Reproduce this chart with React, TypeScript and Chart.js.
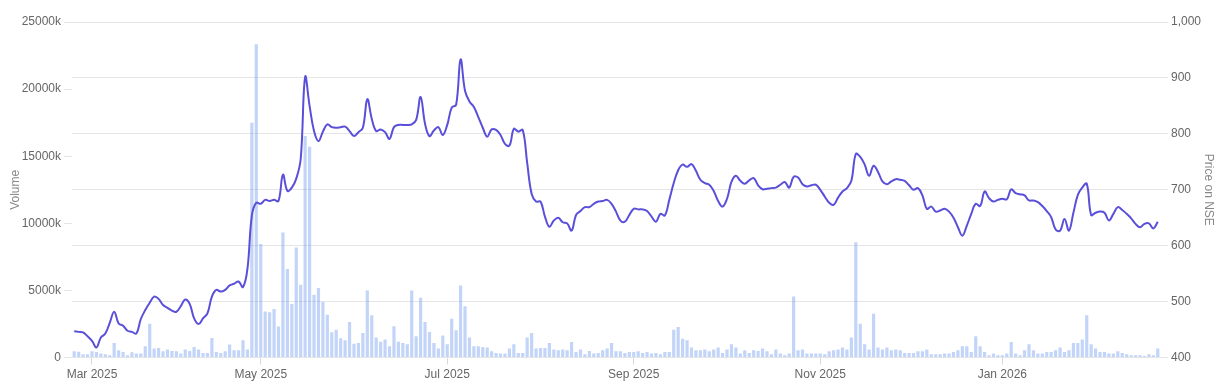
import React, { useEffect, useRef } from "react";
import { Chart, registerables } from "chart.js";
Chart.register(...registerables);

// Daily closing price on NSE (INR), one value per trading day
const prices: number[] = [
  447, 446, 445, 438, 430, 418, 436, 443, 462, 482,
  461, 457, 448, 446, 443, 469, 485, 498, 509, 505,
  494, 489, 484, 482, 492, 504, 496, 470, 460, 470,
  479, 509, 521, 518, 521, 529, 532, 536, 526, 558,
  654, 677, 675, 682, 680, 682, 680, 727, 698, 704,
  720, 755, 902, 850, 805, 787, 804, 817, 812, 811,
  812, 813, 805, 796, 803, 811, 862, 827, 805, 808,
  803, 791, 812, 816, 816, 816, 817, 825, 866, 818,
  796, 806, 812, 798, 816, 847, 852, 933, 877, 858,
  848, 830, 811, 795, 808, 807, 798, 782, 779, 809,
  804, 807, 748, 693, 679, 679, 652, 634, 645, 650,
  642, 640, 627, 655, 662, 669, 669, 675, 679, 680,
  682, 675, 661, 645, 643, 655, 666, 665, 665, 662,
  652, 643, 657, 654, 682, 712, 735, 745, 741, 746,
  734, 718, 712, 709, 698, 680, 670, 684, 714, 725,
  716, 711, 717, 721, 708, 701, 702, 703, 704, 709,
  714, 704, 723, 722, 710, 706, 708, 709, 700, 688,
  677, 673, 686, 697, 703, 716, 764, 759, 745, 725,
  743, 732, 715, 710, 715, 719, 718, 716, 708, 700,
  703, 690, 666, 670, 661, 663, 666, 661, 650, 633,
  618, 636, 657, 675, 671, 697, 685, 679, 682, 684,
  683, 701, 694, 692, 690, 681, 681, 678, 671, 662,
  651, 629, 627, 648, 627, 659, 691, 704, 711, 655,
  659, 661, 659, 645, 657, 669, 664, 657, 649, 639,
  633, 639, 640, 631, 643,
];

// Daily traded volume, in thousands of shares
const volumesK: number[] = [
  470, 440, 245, 245, 470, 420, 300, 245, 170, 1090,
  545, 420, 170, 395, 300, 300, 840, 2530, 670, 715,
  470, 595, 500, 470, 300, 595, 500, 795, 595, 345,
  345, 1460, 420, 345, 470, 970, 545, 545, 1290, 600,
  17500, 23350, 8460, 3440, 3370, 3620, 2310, 9320, 6600, 4000,
  8200, 5430, 16500, 15700, 4690, 5190, 4150, 3200, 1890, 2070,
  1450, 1300, 2650, 1040, 1090, 1830, 5000, 3150, 1490, 1190,
  1340, 840, 2330, 1190, 1090, 990, 5000, 1590, 4460, 2650,
  1900, 1090, 670, 1640, 990, 2900, 2030, 5380, 3820, 1490,
  840, 840, 790, 745, 470, 345, 300, 300, 670, 990,
  345, 345, 1490, 1830, 670, 715, 715, 1090, 595, 545,
  595, 545, 1160, 420, 595, 245, 500, 300, 345, 545,
  670, 1090, 470, 470, 345, 420, 420, 470, 345, 420,
  300, 345, 245, 420, 420, 2080, 2280, 1410, 1290, 745,
  545, 545, 595, 470, 595, 745, 345, 595, 990, 745,
  300, 545, 345, 545, 500, 670, 470, 245, 595, 300,
  170, 300, 4560, 545, 595, 300, 300, 300, 300, 245,
  470, 545, 595, 745, 595, 1490, 8600, 2530, 990, 595,
  3270, 745, 595, 745, 545, 595, 545, 345, 345, 345,
  470, 470, 595, 245, 245, 245, 300, 300, 420, 545,
  840, 840, 420, 1590, 840, 420, 170, 300, 170, 170,
  300, 1160, 300, 170, 545, 990, 545, 300, 300, 420,
  420, 545, 745, 420, 545, 1090, 1090, 1340, 3150, 990,
  670, 420, 420, 300, 300, 470, 345, 245, 170, 170,
  170, 125, 245, 170, 670,
];

// Month tick labels and the trading-day index where each month starts
const tickLabels: string[] = ["Mar 2025", "May 2025", "Jul 2025", "Sep 2025", "Nov 2025", "Jan 2026"];
const tickIndices: number[] = [4, 42, 84, 126, 168, 209];

const categories: string[] = prices.map((_, i) => String(i));

export default function App() {
  const ref = useRef<HTMLCanvasElement | null>(null);

  useEffect(() => {
    if (!ref.current) return;
    const chart = new Chart(ref.current, {
      data: {
        labels: categories,
        datasets: [
          {
            type: "line",
            label: "Price",
            data: prices,
            yAxisID: "yPrice",
            borderColor: "#5a4fd9",
            backgroundColor: "#5a4fd9",
            borderWidth: 2,
            pointRadius: 0,
            pointHoverRadius: 0,
            tension: 0.4,
            order: 0,
          },
          {
            type: "bar",
            label: "Volume",
            data: volumesK.map((v) => v * 1000),
            yAxisID: "yVol",
            backgroundColor: "rgba(120, 160, 240, 0.45)",
            borderWidth: 0,
            order: 1,
          },
        ],
      },
      options: {
        animation: false,
        responsive: true,
        maintainAspectRatio: false,
        layout: { padding: { top: 14, right: 0, left: 0, bottom: 0 } },
        plugins: {
          legend: { display: false },
          tooltip: { enabled: false },
        },
        scales: {
          x: {
            type: "category",
            offset: true,
            afterBuildTicks: (scale: any) => {
              scale.ticks = tickIndices.map((v) => ({ value: v }));
            },
            grid: {
              display: true,
              offset: false,
              drawOnChartArea: false,
              drawTicks: true,
              tickLength: 7,
              color: "rgba(0,0,0,0.15)",
            },
            border: { display: false },
            ticks: {
              autoSkip: false,
              maxRotation: 0,
              minRotation: 0,
              color: "#666",
              font: { size: 12 },
              callback: (v: any) => {
                const k = tickIndices.indexOf(Number(v));
                return k >= 0 ? tickLabels[k] : "";
              },
            },
          },
          yVol: {
            type: "linear",
            position: "left",
            min: 0,
            max: 25000000,
            afterFit: (s: any) => {
              s.width = 64;
            },
            grid: { drawOnChartArea: false, color: "rgba(0,0,0,0.1)", tickLength: 8 },
            border: { display: false },
            ticks: {
              stepSize: 5000000,
              color: "#666",
              font: { size: 12 },
              callback: (v: any) => (Number(v) === 0 ? "0" : Number(v) / 1000 + "k"),
            },
            title: {
              display: true,
              text: "Volume",
              color: "#888",
              font: { size: 12 },
              padding: 0,
            },
          },
          yPrice: {
            type: "linear",
            position: "right",
            min: 400,
            max: 1000,
            afterFit: (s: any) => {
              s.width = 56;
            },
            grid: { drawOnChartArea: true, color: "rgba(0,0,0,0.1)", tickLength: 8 },
            border: { display: false },
            ticks: {
              stepSize: 100,
              color: "#666",
              font: { size: 12 },
              callback: (v: any) => Number(v).toLocaleString("en-US"),
            },
            title: {
              display: true,
              text: "Price on NSE",
              color: "#888",
              font: { size: 12 },
              padding: 0,
            },
          },
        },
      },
    });
    return () => chart.destroy();
  }, []);

  return (
    <div style={{ position: "relative", height: 377 }}>
      <canvas ref={ref} />
    </div>
  );
}
